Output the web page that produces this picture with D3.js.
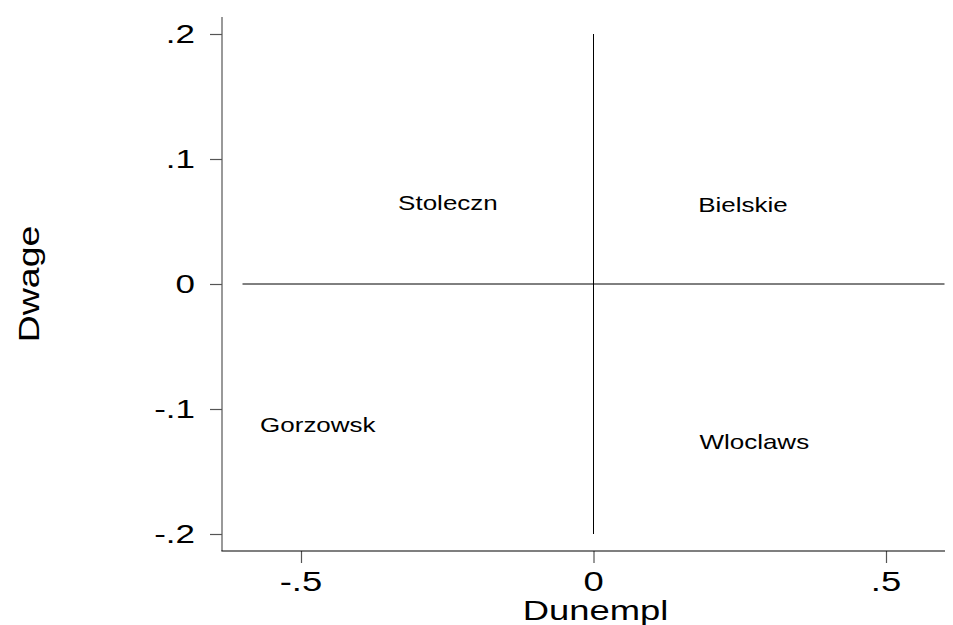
<!DOCTYPE html>
<html>
<head>
<meta charset="utf-8">
<script src="https://cdn.jsdelivr.net/npm/d3@7"></script>
<style>
  html, body { margin: 0; padding: 0; background: #fff; }
  svg { display: block; }
  text { font-family: "Liberation Sans", Arial, Helvetica, sans-serif; fill: #000; }
</style>
</head>
<body>
<svg id="chart" width="953" height="625"></svg>
<script>
// ---- data ----
const regions = ["Stoleczn", "Bielskie", "Gorzowsk", "Wloclaws"];
const dunempl = [-0.334, 0.179, -0.570, 0.181];
const dwage   = [0.065, 0.063, -0.113, -0.126];
const xTicks = [-0.5, 0, 0.5];
const xTickLabels = ["-.5", "0", ".5"];
const yTicks = [-0.2, -0.1, 0, 0.1, 0.2];
const yTickLabels = ["-.2", "-.1", "0", ".1", ".2"];
const xTitle = "Dunempl";
const yTitle = "Dwage";
const refX = [-0.6, 0.6];   // extent of horizontal reference line (y = 0)
const refY = [-0.2, 0.2];   // extent of vertical reference line (x = 0)

// ---- layout ----
const svg = d3.select("#chart");
const SX = 1.3; // horizontal text stretch
const x = d3.scaleLinear().domain([-0.5, 0.5]).range([301, 886]);
const y = d3.scaleLinear().domain([-0.2, 0.2]).range([534, 34]);
const axisLeftX = 222, axisBottomY = 551;
const xAxisEnd = 945, yAxisTop = 17;

// y axis
const yAx = svg.append("g").attr("transform", `translate(${axisLeftX},0)`)
  .call(d3.axisLeft(y).tickValues(yTicks).tickFormat("").tickSize(12).tickSizeOuter(0));
yAx.select(".domain").remove();
yAx.selectAll(".tick line").attr("stroke", "#555").attr("stroke-width", 1.2);
svg.append("line").attr("x1", axisLeftX).attr("x2", axisLeftX)
  .attr("y1", yAxisTop).attr("y2", axisBottomY).attr("stroke", "#555").attr("stroke-width", 1.2);

// x axis
const xAx = svg.append("g").attr("transform", `translate(0,${axisBottomY})`)
  .call(d3.axisBottom(x).tickValues(xTicks).tickFormat("").tickSize(12).tickSizeOuter(0));
xAx.select(".domain").remove();
xAx.selectAll(".tick line").attr("stroke", "#555").attr("stroke-width", 1.2);
svg.append("line").attr("x1", axisLeftX - 0.6).attr("x2", xAxisEnd)
  .attr("y1", axisBottomY).attr("y2", axisBottomY).attr("stroke", "#000").attr("stroke-width", 1.2);

// tick labels
svg.append("g").selectAll("text").data(yTicks).join("text")
  .attr("transform", d => `translate(195,${y(d) + 9}) scale(1.4,1)`)
  .attr("text-anchor", "end")
  .style("font-size", "25px")
  .text((d, i) => yTickLabels[i]);

svg.append("g").selectAll("text").data(xTicks).join("text")
  .attr("transform", d => `translate(${x(d)},591) scale(${SX},1)`)
  .attr("text-anchor", "middle")
  .style("font-size", "28px")
  .text((d, i) => xTickLabels[i]);

// axis titles
svg.append("text")
  .attr("transform", `translate(${x(0) + 2},620) scale(${SX},1)`)
  .attr("text-anchor", "middle")
  .style("font-size", "28px")
  .text(xTitle);

svg.append("text")
  .attr("transform", `translate(39,${y(0)}) rotate(-90) scale(1.25,1)`)
  .attr("text-anchor", "middle")
  .style("font-size", "30px")
  .text(yTitle);

// reference lines
svg.append("line")
  .attr("x1", x(refX[0])).attr("x2", x(refX[1]))
  .attr("y1", y(0)).attr("y2", y(0))
  .attr("stroke", "#000").attr("stroke-width", 1);
svg.append("line")
  .attr("x1", x(0)).attr("x2", x(0))
  .attr("y1", y(refY[0])).attr("y2", y(refY[1]))
  .attr("stroke", "#000").attr("stroke-width", 1);

// point labels
const pts = regions.map((r, i) => ({ r, dx: dunempl[i], dy: dwage[i] }));
svg.append("g").selectAll("text").data(pts).join("text")
  .attr("transform", d => `translate(${x(d.dx)},${y(d.dy) + 7}) scale(${SX},1)`)
  .style("font-size", "20px")
  .text(d => d.r);
</script>
</body>
</html>
